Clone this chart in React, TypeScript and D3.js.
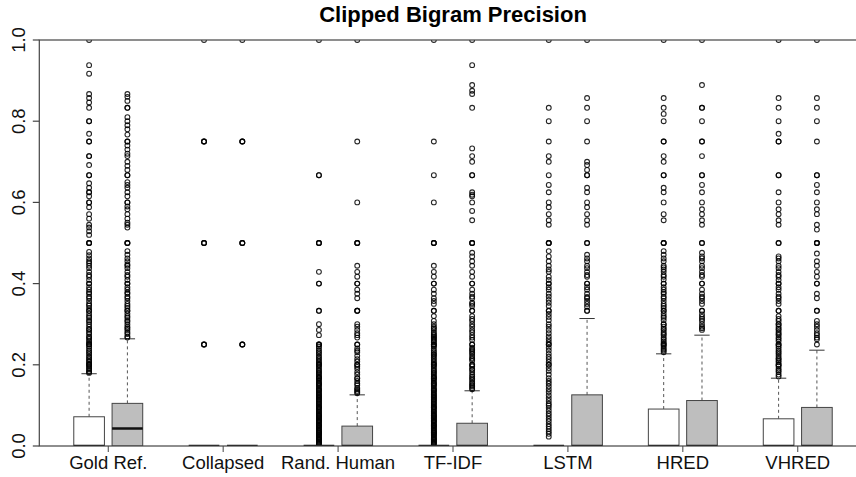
import React from "react";
import * as d3 from "d3";

const groups = ["Gold Ref.", "Collapsed", "Rand. Human", "TF-IDF", "LSTM", "HRED", "VHRED"];
const yTicks = [0, 0.2, 0.4, 0.6, 0.8, 1.0];
const yTickLabels = ["0.0", "0.2", "0.4", "0.6", "0.8", "1.0"];

// 14 boxes: per group white then gray
const boxFill = ["white", "gray", "white", "gray", "white", "gray", "white", "gray", "white", "gray", "white", "gray", "white", "gray"];
const q1 = [0, 0, 0, 0, 0, 0, 0, 0, 0, 0, 0, 0, 0, 0];
const medians = [0, 0.043, 0, 0, 0, 0, 0, 0, 0, 0, 0, 0, 0, 0];
const q3 = [0.072, 0.105, 0, 0, 0, 0.049, 0, 0.056, 0, 0.126, 0.091, 0.112, 0.067, 0.095];
const whiskerHi = [0.178, 0.264, 0, 0, 0, 0.126, 0, 0.136, 0, 0.314, 0.227, 0.273, 0.167, 0.236];

const goldWhiteOut = [1, 0.938, 0.917, 0.867, 0.857, 0.846, 0.833, 0.8, 0.8, 0.769, 0.75, 0.75, 0.714, 0.714, 0.692, 0.667, 0.667, 0.647, 0.636, 0.625, 0.625, 0.615, 0.6, 0.6, 0.588, 0.571, 0.56, 0.545, 0.538, 0.529, 0.52, 0.5, 0.5, 0.5, 0.478, 0.47, 0.462, 0.455, 0.45, 0.444, 0.438, 0.429, 0.421, 0.417, 0.409, 0.4, 0.4, 0.391, 0.385, 0.379, 0.375, 0.368, 0.364, 0.357, 0.35, 0.346, 0.34, 0.333, 0.333, 0.326, 0.32, 0.316, 0.31, 0.306, 0.3, 0.294, 0.288, 0.286, 0.28, 0.276, 0.27, 0.267, 0.263, 0.258, 0.254, 0.25, 0.25, 0.245, 0.24, 0.235, 0.231, 0.227, 0.222, 0.218, 0.214, 0.21, 0.207, 0.203, 0.2, 0.2, 0.196, 0.192, 0.189, 0.185, 0.182, 0.18];
const goldGrayOut = [0.867, 0.86, 0.85, 0.833, 0.833, 0.81, 0.8, 0.79, 0.78, 0.767, 0.75, 0.75, 0.74, 0.73, 0.72, 0.714, 0.7, 0.69, 0.68, 0.667, 0.667, 0.65, 0.643, 0.636, 0.625, 0.615, 0.6, 0.6, 0.59, 0.583, 0.571, 0.56, 0.55, 0.545, 0.538, 0.5, 0.5, 0.5, 0.48, 0.471, 0.462, 0.455, 0.447, 0.444, 0.438, 0.429, 0.421, 0.417, 0.409, 0.4, 0.4, 0.391, 0.385, 0.378, 0.375, 0.368, 0.364, 0.357, 0.35, 0.345, 0.34, 0.333, 0.333, 0.326, 0.32, 0.316, 0.31, 0.306, 0.3, 0.294, 0.29, 0.286, 0.28, 0.276, 0.27, 0.267];
const collapsedWhiteOut = [1, 0.75, 0.75, 0.75, 0.5, 0.5, 0.5, 0.25, 0.25, 0.25];
const collapsedGrayOut = [1, 0.75, 0.75, 0.75, 0.5, 0.5, 0.5, 0.25, 0.25, 0.25];
const randWhiteOut = [1, 0.667, 0.667, 0.5, 0.5, 0.5, 0.429, 0.4, 0.4, 0.333, 0.333, 0.3, 0.286, 0.273, 0.25, 0.25, 0.25, 0.245, 0.24, 0.235, 0.231, 0.227, 0.222, 0.218, 0.214, 0.21, 0.206, 0.203, 0.2, 0.2, 0.196, 0.192, 0.188, 0.185, 0.182, 0.179, 0.176, 0.172, 0.17, 0.167, 0.167, 0.163, 0.16, 0.156, 0.154, 0.152, 0.15, 0.147, 0.143, 0.14, 0.138, 0.136, 0.133, 0.13, 0.127, 0.125, 0.122, 0.12, 0.118, 0.115, 0.113, 0.111, 0.108, 0.105, 0.103, 0.1, 0.097, 0.095, 0.094, 0.091, 0.088, 0.085, 0.083, 0.08, 0.077, 0.075, 0.074, 0.071, 0.069, 0.067, 0.064, 0.062, 0.061, 0.059, 0.056, 0.053, 0.051, 0.05, 0.048, 0.045, 0.043, 0.04, 0.038, 0.036, 0.034, 0.033, 0.031, 0.029, 0.027, 0.025, 0.022, 0.02, 0.018, 0.016, 0.014, 0.012, 0.01, 0.008, 0.006, 0.004];
const randGrayOut = [1, 0.75, 0.6, 0.5, 0.5, 0.5, 0.444, 0.429, 0.417, 0.4, 0.4, 0.385, 0.375, 0.364, 0.333, 0.333, 0.333, 0.3, 0.294, 0.286, 0.278, 0.273, 0.267, 0.25, 0.25, 0.24, 0.235, 0.231, 0.222, 0.214, 0.208, 0.2, 0.2, 0.195, 0.19, 0.182, 0.176, 0.167, 0.167, 0.16, 0.154, 0.15, 0.143, 0.14, 0.136, 0.133, 0.13];
const tfidfWhiteOut = [1, 0.75, 0.667, 0.6, 0.5, 0.5, 0.5, 0.444, 0.429, 0.417, 0.4, 0.4, 0.385, 0.375, 0.364, 0.357, 0.35, 0.333, 0.333, 0.32, 0.308, 0.3, 0.294, 0.29, 0.286, 0.28, 0.276, 0.273, 0.27, 0.267, 0.264, 0.261, 0.258, 0.255, 0.25, 0.25, 0.248, 0.245, 0.24, 0.235, 0.231, 0.227, 0.225, 0.222, 0.218, 0.214, 0.21, 0.206, 0.203, 0.2, 0.2, 0.196, 0.192, 0.188, 0.185, 0.182, 0.179, 0.176, 0.172, 0.17, 0.167, 0.167, 0.163, 0.16, 0.156, 0.154, 0.152, 0.15, 0.147, 0.143, 0.14, 0.138, 0.136, 0.133, 0.13, 0.127, 0.125, 0.122, 0.12, 0.118, 0.115, 0.113, 0.111, 0.108, 0.105, 0.103, 0.1, 0.097, 0.095, 0.094, 0.091, 0.088, 0.085, 0.083, 0.08, 0.077, 0.075, 0.074, 0.071, 0.069, 0.067, 0.064, 0.062, 0.061, 0.059, 0.056, 0.053, 0.051, 0.05, 0.048, 0.045, 0.043, 0.04, 0.038, 0.036, 0.034, 0.033, 0.031, 0.029, 0.027, 0.025, 0.022, 0.02, 0.018, 0.016, 0.014, 0.012, 0.01, 0.008, 0.006, 0.004];
const tfidfGrayOut = [1, 0.938, 0.889, 0.875, 0.867, 0.833, 0.733, 0.714, 0.7, 0.667, 0.667, 0.625, 0.619, 0.615, 0.6, 0.579, 0.556, 0.5, 0.5, 0.5, 0.476, 0.467, 0.455, 0.444, 0.429, 0.417, 0.4, 0.4, 0.385, 0.375, 0.368, 0.364, 0.353, 0.35, 0.345, 0.333, 0.333, 0.32, 0.313, 0.308, 0.3, 0.294, 0.286, 0.28, 0.273, 0.267, 0.261, 0.25, 0.25, 0.242, 0.238, 0.235, 0.231, 0.227, 0.222, 0.217, 0.214, 0.21, 0.2, 0.2, 0.196, 0.19, 0.188, 0.182, 0.176, 0.171, 0.167, 0.163, 0.158, 0.154, 0.15, 0.147, 0.143, 0.14];
const lstmWhiteOut = [1, 0.833, 0.8, 0.75, 0.714, 0.7, 0.667, 0.643, 0.625, 0.6, 0.588, 0.571, 0.556, 0.545, 0.5, 0.5, 0.5, 0.48, 0.467, 0.455, 0.444, 0.435, 0.429, 0.417, 0.409, 0.4, 0.4, 0.391, 0.385, 0.375, 0.368, 0.36, 0.353, 0.345, 0.333, 0.333, 0.325, 0.318, 0.31, 0.3, 0.294, 0.286, 0.278, 0.27, 0.263, 0.256, 0.25, 0.25, 0.242, 0.235, 0.227, 0.22, 0.214, 0.207, 0.2, 0.2, 0.192, 0.185, 0.176, 0.167, 0.16, 0.154, 0.147, 0.14, 0.133, 0.125, 0.118, 0.111, 0.104, 0.1, 0.094, 0.087, 0.08, 0.074, 0.067, 0.061, 0.054, 0.048, 0.042, 0.036, 0.03, 0.023];
const lstmGrayOut = [1, 0.857, 0.833, 0.8, 0.75, 0.7, 0.692, 0.68, 0.667, 0.667, 0.636, 0.625, 0.6, 0.588, 0.571, 0.556, 0.545, 0.5, 0.5, 0.471, 0.462, 0.455, 0.444, 0.438, 0.429, 0.421, 0.417, 0.4, 0.4, 0.391, 0.385, 0.375, 0.367, 0.364, 0.357, 0.35, 0.343, 0.333, 0.333];
const hredWhiteOut = [1, 0.857, 0.833, 0.818, 0.8, 0.75, 0.75, 0.714, 0.7, 0.667, 0.667, 0.636, 0.625, 0.6, 0.571, 0.556, 0.5, 0.5, 0.5, 0.48, 0.471, 0.462, 0.455, 0.444, 0.44, 0.435, 0.429, 0.421, 0.417, 0.41, 0.4, 0.4, 0.391, 0.385, 0.379, 0.375, 0.368, 0.364, 0.357, 0.35, 0.345, 0.34, 0.333, 0.333, 0.326, 0.32, 0.316, 0.31, 0.3, 0.3, 0.294, 0.289, 0.286, 0.28, 0.276, 0.273, 0.267, 0.263, 0.258, 0.254, 0.25, 0.25, 0.246, 0.242, 0.238, 0.235, 0.231];
const hredGrayOut = [1, 0.889, 0.833, 0.833, 0.8, 0.75, 0.75, 0.714, 0.667, 0.667, 0.643, 0.625, 0.6, 0.583, 0.571, 0.556, 0.545, 0.5, 0.5, 0.476, 0.467, 0.462, 0.455, 0.444, 0.438, 0.429, 0.421, 0.417, 0.4, 0.4, 0.385, 0.375, 0.368, 0.364, 0.357, 0.35, 0.333, 0.333, 0.324, 0.318, 0.313, 0.308, 0.3, 0.294, 0.29, 0.286];
const vhredWhiteOut = [1, 0.857, 0.833, 0.8, 0.769, 0.75, 0.75, 0.667, 0.667, 0.625, 0.6, 0.583, 0.571, 0.556, 0.545, 0.5, 0.5, 0.467, 0.462, 0.455, 0.444, 0.438, 0.429, 0.421, 0.417, 0.409, 0.4, 0.4, 0.391, 0.385, 0.375, 0.368, 0.364, 0.357, 0.35, 0.333, 0.333, 0.32, 0.313, 0.308, 0.3, 0.3, 0.294, 0.289, 0.286, 0.28, 0.276, 0.273, 0.267, 0.263, 0.258, 0.25, 0.25, 0.245, 0.24, 0.235, 0.231, 0.227, 0.222, 0.217, 0.214, 0.21, 0.206, 0.2, 0.2, 0.196, 0.19, 0.186, 0.182, 0.176, 0.171];
const vhredGrayOut = [1, 0.857, 0.833, 0.8, 0.75, 0.667, 0.667, 0.643, 0.625, 0.6, 0.583, 0.571, 0.545, 0.533, 0.5, 0.5, 0.5, 0.474, 0.455, 0.444, 0.429, 0.417, 0.4, 0.4, 0.375, 0.364, 0.333, 0.333, 0.308, 0.3, 0.294, 0.286, 0.278, 0.273, 0.267, 0.263, 0.25];

const outliers = [goldWhiteOut, goldGrayOut, collapsedWhiteOut, collapsedGrayOut, randWhiteOut, randGrayOut, tfidfWhiteOut, tfidfGrayOut, lstmWhiteOut, lstmGrayOut, hredWhiteOut, hredGrayOut, vhredWhiteOut, vhredGrayOut];

const W = 856;
const H = 477;
const plotLeft = 39.3;
const plotRight = 866.7;
const plotTop = 40;
const plotBottom = 446;
const FONT = "'Liberation Sans', Arial, Helvetica, sans-serif";

export default function App() {
  const positions = boxFill.map((_, i) => Math.floor(i / 2) * 3 + (i % 2) + 1);
  const x = d3.scaleLinear().domain([-0.3, 21.3]).range([plotLeft, plotRight]);
  const y = d3.scaleLinear().domain([0, 1]).range([plotBottom, plotTop]);
  const unit = x(1) - x(0);
  const boxW = unit * 0.8;
  const stapleW = boxW * 0.5;
  const groupCenters = groups.map((_, g) => x(g * 3 + 1.5));

  return (
    <svg width={W} height={H} style={{ position: "absolute", left: 0, top: 0, background: "white" }} fontFamily={FONT}>
      <defs>
        <clipPath id="plotclip">
          <rect x={plotLeft} y={plotTop} width={plotRight - plotLeft} height={plotBottom - plotTop} />
        </clipPath>
      </defs>
      <rect x={0} y={0} width={W} height={H} fill="white" />
      <g clipPath="url(#plotclip)">
        {positions.map((p, i) => {
          const cx = x(p);
          return (
            <g key={"b" + i}>
              {whiskerHi[i] > q3[i] && (
                <>
                  <line x1={cx} x2={cx} y1={y(q3[i])} y2={y(whiskerHi[i])} stroke="#555" strokeWidth={1} strokeDasharray="3,3" />
                  <line x1={cx - stapleW / 2} x2={cx + stapleW / 2} y1={y(whiskerHi[i])} y2={y(whiskerHi[i])} stroke="#333" strokeWidth={1} />
                </>
              )}
              <rect
                x={cx - boxW / 2}
                y={y(q3[i])}
                width={boxW}
                height={Math.max(0, y(q1[i]) - y(q3[i]))}
                fill={boxFill[i] === "gray" ? "#bebebe" : "#ffffff"}
                stroke="#444"
                strokeWidth={1}
              />
              <line x1={cx - boxW / 2} x2={cx + boxW / 2} y1={y(medians[i])} y2={y(medians[i])} stroke="#111" strokeWidth={2.5} />
              {outliers[i].map((v, j) => (
                <circle key={j} cx={cx} cy={y(v)} r={2.4} fill="none" stroke="#000" strokeOpacity={0.85} strokeWidth={1.1} />
              ))}
            </g>
          );
        })}
      </g>
      <rect x={plotLeft} y={plotTop} width={plotRight - plotLeft} height={plotBottom - plotTop} fill="none" stroke="#444" strokeWidth={1.2} />
      {yTicks.map((t, i) => (
        <g key={"y" + i}>
          <line x1={plotLeft - 6.5} x2={plotLeft} y1={y(t)} y2={y(t)} stroke="#444" strokeWidth={1.2} />
          <text transform={`translate(25,${y(t)}) rotate(-90)`} textAnchor="middle" fontSize={18.5} fill="#111">
            {yTickLabels[i]}
          </text>
        </g>
      ))}
      {groups.map((g, i) => (
        <g key={"x" + i}>
          <line x1={groupCenters[i]} x2={groupCenters[i]} y1={plotBottom} y2={plotBottom + 6} stroke="#444" strokeWidth={1} />
          <text x={groupCenters[i]} y={469} textAnchor="middle" fontSize={18.5} fill="#111">
            {g}
          </text>
        </g>
      ))}
      <text x={(plotLeft + plotRight) / 2} y={22} textAnchor="middle" fontSize={22} fontWeight="bold" fill="#000">
        Clipped Bigram Precision
      </text>
    </svg>
  );
}
